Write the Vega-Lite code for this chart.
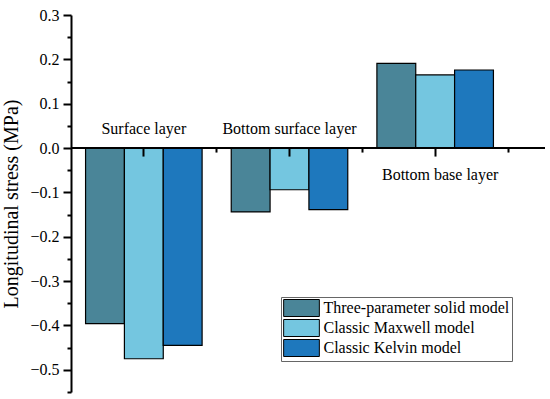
{
  "$schema": "https://vega.github.io/schema/vega-lite/v6.json",
  "width": 474,
  "height": 377,
  "autosize": {"type": "none"},
  "padding": {"left": 71, "top": 15, "right": 5, "bottom": 7},
  "background": "white",
  "config": {
    "view": {"stroke": null},
    "font": "Liberation Serif"
  },
  "datasets": {
    "stress": [
      {"layer": "Surface layer", "model": "Three-parameter solid model", "stress": -0.396},
      {"layer": "Surface layer", "model": "Classic Maxwell model", "stress": -0.475},
      {"layer": "Surface layer", "model": "Classic Kelvin model", "stress": -0.445},
      {"layer": "Bottom surface layer", "model": "Three-parameter solid model", "stress": -0.144},
      {"layer": "Bottom surface layer", "model": "Classic Maxwell model", "stress": -0.094},
      {"layer": "Bottom surface layer", "model": "Classic Kelvin model", "stress": -0.139},
      {"layer": "Bottom base layer", "model": "Three-parameter solid model", "stress": 0.191},
      {"layer": "Bottom base layer", "model": "Classic Maxwell model", "stress": 0.165},
      {"layer": "Bottom base layer", "model": "Classic Kelvin model", "stress": 0.176}
    ],
    "groups": [
      {"layer": "Surface layer", "side": "above"},
      {"layer": "Bottom surface layer", "side": "above"},
      {"layer": "Bottom base layer", "side": "below"}
    ]
  },
  "resolve": {"axis": {"x": "independent", "y": "independent"}},
  "layer": [
    {
      "data": {"name": "stress"},
      "mark": {"type": "bar", "stroke": "black", "strokeWidth": 1.2, "opacity": 1},
      "encoding": {
        "x": {
          "field": "layer", "type": "nominal",
          "scale": {"domain": ["Surface layer", "Bottom surface layer", "Bottom base layer"], "range": [0, 437], "paddingInner": 0.2, "paddingOuter": 0.1},
          "axis": {"orient": "bottom", "offset": -243.94, "labels": false, "domain": false, "title": null, "tickSize": 8, "tickWidth": 2, "tickColor": "black", "zindex": 1}
        },
        "xOffset": {
          "field": "model", "type": "nominal",
          "scale": {"domain": ["Three-parameter solid model", "Classic Maxwell model", "Classic Kelvin model"], "paddingInner": 0, "paddingOuter": 0}
        },
        "y": {
          "field": "stress", "type": "quantitative",
          "scale": {"domain": [-0.55, 0.3], "nice": false, "zero": false},
          "axis": {
            "orient": "left",
            "title": "Longitudinal stress (MPa)",
            "titleFont": "Liberation Serif", "titleFontSize": 20, "titleFontWeight": "normal", "titleColor": "black", "titlePadding": 8,
            "values": [-0.5, -0.4, -0.3, -0.2, -0.1, 0, 0.1, 0.2, 0.3],
            "labelExpr": "replace(format(datum.value, '.1f'), /[-\u2212]/, '\u2212')",
            "labelFont": "Liberation Serif", "labelFontSize": 16, "labelColor": "black", "labelPadding": 4,
            "tickSize": 8, "tickWidth": 2, "tickColor": "black",
            "domainWidth": 2, "domainColor": "black",
            "grid": false, "zindex": 1
          }
        },
        "color": {
          "field": "model", "type": "nominal",
          "scale": {"domain": ["Three-parameter solid model", "Classic Maxwell model", "Classic Kelvin model"], "range": ["#4A8598", "#74C6E0", "#1E78BD"]},
          "legend": {
            "orient": "none", "legendX": 210, "legendY": 282, "title": null,
            "strokeColor": "#666666", "fillColor": "white", "padding": 2,
            "symbolType": "M-2.1,-1H2.1V1H-2.1Z", "symbolSize": 289,
            "symbolStrokeColor": "black", "symbolStrokeWidth": 1, "symbolOffset": 9.5,
            "labelOffset": 13, "labelFont": "Liberation Serif", "labelFontSize": 16, "labelColor": "black",
            "rowPadding": -3, "labelLimit": 300, "symbolOpacity": 1
          }
        }
      }
    },
    {
      "data": {"values": [{"v": 0}]},
      "mark": {"type": "rule", "color": "black", "strokeWidth": 2},
      "encoding": {
        "y": {
          "field": "v", "type": "quantitative",
          "axis": {
            "orient": "left", "title": null, "labels": false, "domain": false, "grid": false,
            "values": [-0.55, -0.45, -0.35, -0.25, -0.15, -0.05, 0.05, 0.15, 0.25],
            "tickSize": 4, "tickWidth": 2, "tickColor": "black", "zindex": 1
          }
        }
      }
    },
    {
      "data": {"name": "groups"},
      "transform": [{"filter": "datum.side == 'above'"}],
      "mark": {"type": "text", "baseline": "alphabetic", "dy": -14, "fontSize": 16, "font": "Liberation Serif", "color": "black"},
      "encoding": {
        "x": {
          "field": "layer", "type": "nominal",
          "scale": {"domain": ["Surface layer", "Bottom surface layer", "Bottom base layer"]},
          "axis": {"orient": "bottom", "offset": -243.94, "labels": false, "domain": false, "title": null, "bandPosition": 1.125, "tickSize": 4, "tickWidth": 2, "tickColor": "black", "zindex": 1}
        },
        "y": {"datum": 0, "axis": null},
        "text": {"field": "layer"}
      }
    },
    {
      "data": {"name": "groups"},
      "transform": [{"filter": "datum.side == 'below'"}],
      "mark": {"type": "text", "baseline": "alphabetic", "dy": 32, "dx": 5, "fontSize": 16, "font": "Liberation Serif", "color": "black"},
      "encoding": {
        "x": {
          "field": "layer", "type": "nominal",
          "scale": {"domain": ["Surface layer", "Bottom surface layer", "Bottom base layer"]},
          "axis": null
        },
        "y": {"datum": 0, "axis": null},
        "text": {"field": "layer"}
      }
    }
  ]
}
